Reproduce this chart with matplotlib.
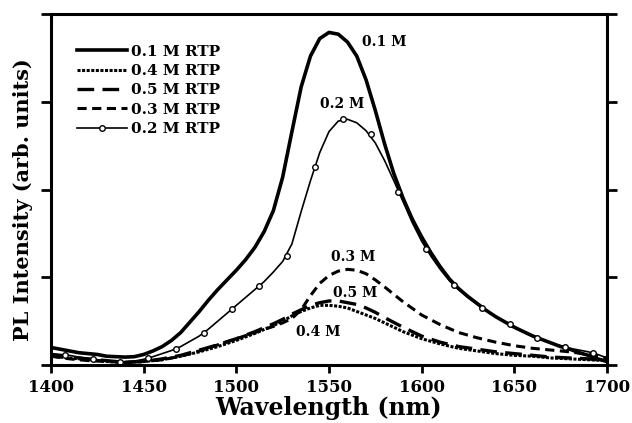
import matplotlib
matplotlib.use('Agg')
import matplotlib.pyplot as plt
from matplotlib.lines import Line2D

# 0.1 M RTP (thick solid), read every 5 nm
wl_01 = list(range(1400, 1705, 5))
pl_01 = [0.20, 0.18, 0.16, 0.14, 0.13, 0.12, 0.10, 0.095, 0.09, 0.095,
         0.12, 0.16, 0.21, 0.28, 0.37, 0.49, 0.61, 0.74, 0.86, 0.97,
         1.08, 1.20, 1.34, 1.52, 1.76, 2.14, 2.66, 3.17, 3.52, 3.72,
         3.79, 3.77, 3.68, 3.52, 3.25, 2.90, 2.52, 2.18, 1.90, 1.66,
         1.46, 1.28, 1.12, 0.98, 0.87, 0.78, 0.70, 0.62, 0.55, 0.49,
         0.43, 0.38, 0.33, 0.29, 0.25, 0.21, 0.18, 0.14, 0.11, 0.07, 0.04]

# 0.2 M RTP (thin line), read every 5 nm
wl_02 = list(range(1400, 1705, 5))
pl_02 = [0.13, 0.12, 0.11, 0.09, 0.075, 0.06, 0.05, 0.04, 0.035, 0.045,
         0.065, 0.095, 0.13, 0.165, 0.21, 0.27, 0.33, 0.41, 0.50, 0.59,
         0.68, 0.77, 0.86, 0.95, 1.06, 1.18, 1.38, 1.75, 2.10, 2.42,
         2.66, 2.78, 2.80, 2.76, 2.67, 2.53, 2.33, 2.10, 1.86, 1.62,
         1.41, 1.24, 1.09, 0.96, 0.86, 0.77, 0.69, 0.62, 0.55, 0.49,
         0.44, 0.38, 0.33, 0.29, 0.25, 0.22, 0.19, 0.17, 0.15, 0.12, 0.08]

# 0.2 M RTP open-circle markers (every 15 nm)
wl_02_mk = [1407.5, 1422.5, 1437.5, 1452.5, 1467.5, 1482.5, 1497.5, 1512.5, 1527.5, 1542.5,
            1557.5, 1572.5, 1587.5, 1602.5, 1617.5, 1632.5, 1647.5, 1662.5, 1677.5, 1692.5]
pl_02_mk = [0.114, 0.068, 0.034, 0.080, 0.182, 0.365, 0.638, 0.900, 1.242, 2.256,
            2.803, 2.632, 1.972, 1.322, 0.912, 0.650, 0.467, 0.308, 0.205, 0.137]

# 0.3, 0.4, 0.5 M RTP
wl_low = [1400, 1410, 1420, 1430, 1440, 1450, 1460, 1470, 1480, 1490, 1500, 1510, 1520,
          1525, 1530, 1535, 1540, 1545, 1550, 1555, 1560, 1565, 1570, 1575, 1580, 1590,
          1600, 1610, 1620, 1630, 1640, 1650, 1660, 1670, 1680, 1690, 1700]
pl_03 = [0.10, 0.07, 0.05, 0.04, 0.03, 0.04, 0.06, 0.10, 0.16, 0.23, 0.30, 0.37, 0.44,
         0.48, 0.53, 0.63, 0.79, 0.93, 1.02, 1.07, 1.09, 1.08, 1.04, 0.97, 0.89, 0.72,
         0.57, 0.46, 0.37, 0.31, 0.26, 0.22, 0.19, 0.17, 0.15, 0.12, 0.08]
pl_04 = [0.10, 0.08, 0.06, 0.04, 0.03, 0.04, 0.06, 0.10, 0.15, 0.21, 0.28, 0.36, 0.45,
         0.50, 0.56, 0.61, 0.65, 0.68, 0.68, 0.67, 0.65, 0.61, 0.57, 0.53, 0.48, 0.38,
         0.30, 0.24, 0.19, 0.16, 0.13, 0.11, 0.10, 0.08, 0.07, 0.06, 0.05]
pl_05 = [0.12, 0.09, 0.07, 0.05, 0.03, 0.04, 0.07, 0.11, 0.17, 0.23, 0.30, 0.38, 0.47,
         0.52, 0.58, 0.63, 0.68, 0.71, 0.73, 0.73, 0.71, 0.69, 0.65, 0.60, 0.54, 0.43,
         0.33, 0.26, 0.21, 0.18, 0.15, 0.13, 0.11, 0.09, 0.08, 0.07, 0.05]

x_ticks = [1400, 1450, 1500, 1550, 1600, 1650, 1700]

plt.rcParams['font.family'] = 'DejaVu Serif'
plt.rcParams['font.weight'] = 'bold'

fig = plt.figure(figsize=(6.32, 4.23), dpi=100)
ax = fig.add_axes([0.0807, 0.1371, 0.8797, 0.8298])

ax.plot(wl_01, pl_01, color='k', lw=2.6, solid_joinstyle='round')
ax.plot(wl_low, pl_04, color='k', lw=2.2, ls=(0, (1, 0.5)))
ax.plot(wl_low, pl_05, color='k', lw=2.4, ls=(0, (5, 2.5)))
ax.plot(wl_low, pl_03, color='k', lw=2.2, ls=(0, (3, 1.8)))
ax.plot(wl_02, pl_02, color='k', lw=1.2)
ax.plot(wl_02_mk, pl_02_mk, ls='none', marker='o', ms=4, mfc='white', mec='k', mew=1.0)

ax.text(1568, 3.68, '0.1 M', fontsize=10, fontweight='bold', va='center')
ax.text(1545, 2.97, '0.2 M', fontsize=10, fontweight='bold', va='center')
ax.text(1551, 1.23, '0.3 M', fontsize=10, fontweight='bold', va='center')
ax.text(1552, 0.82, '0.5 M', fontsize=10, fontweight='bold', va='center')
ax.text(1532, 0.38, '0.4 M', fontsize=10, fontweight='bold', va='center')

ax.set_xlim(1400, 1700)
ax.set_ylim(0, 4)
ax.set_xticks(x_ticks)
ax.set_yticks([0, 1, 2, 3, 4])
ax.set_yticklabels([])
ax.tick_params(axis='x', direction='out', length=6, width=2, labelsize=12, pad=4)
ax.tick_params(axis='y', direction='out', length=7, width=2, right=True, left=True)
for lab in ax.get_xticklabels():
    lab.set_fontweight('bold')
for sp in ax.spines.values():
    sp.set_linewidth(2.2)

ax.set_xlabel('Wavelength (nm)', fontsize=17, fontweight='bold', labelpad=0)
ax.set_ylabel('PL Intensity (arb. units)', fontsize=15, fontweight='bold')
ax.yaxis.set_label_coords(-0.032, 0.47)

handles = [
    Line2D([], [], color='k', lw=2.6),
    Line2D([], [], color='k', lw=2.2, ls=(0, (1, 0.5))),
    Line2D([], [], color='k', lw=2.4, ls=(0, (5, 2.5))),
    Line2D([], [], color='k', lw=2.2, ls=(0, (3, 1.8))),
    Line2D([], [], color='k', lw=1.2, marker='o', ms=4, mfc='white', mec='k', mew=1.0),
]
labels = ['0.1 M RTP', '0.4 M RTP', '0.5 M RTP', '0.3 M RTP', '0.2 M RTP']
leg = ax.legend(handles, labels, loc='upper left', bbox_to_anchor=(0.035, 0.93),
                frameon=False, fontsize=11, handlelength=3.3, handletextpad=0.25,
                labelspacing=0.35, borderaxespad=0, markerscale=1.0)
for t in leg.get_texts():
    t.set_fontweight('bold')

fig.savefig('out.png', dpi=100)
